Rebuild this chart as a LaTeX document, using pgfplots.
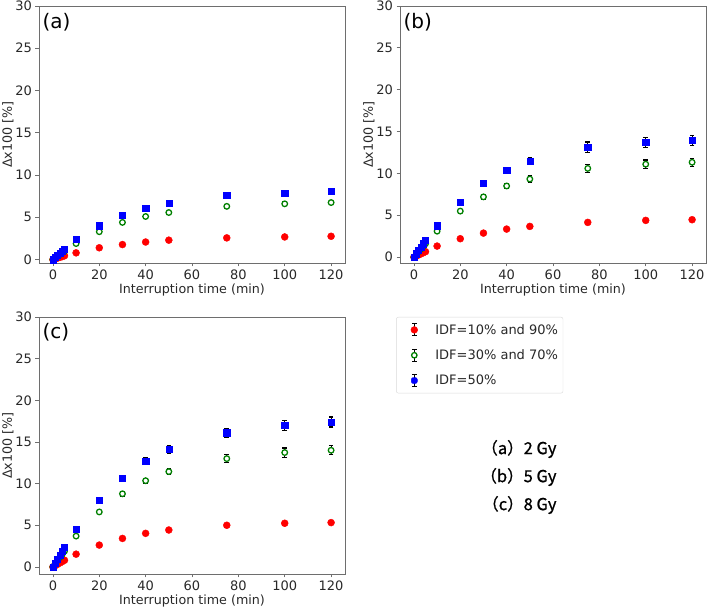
\documentclass[border=0pt]{standalone}
\usepackage{fontspec}
\setmainfont{DejaVu Sans}
\newfontfamily\cjk[FakeBold=0.8]{Noto Sans CJK JP}
\usepackage{pgfplots}
\usepackage{pgfplotstable}
\pgfplotsset{compat=1.18}
\definecolor{mplred}{RGB}{255,0,0}
\definecolor{mplgreen}{RGB}{0,128,0}
\definecolor{mplblue}{RGB}{0,0,255}
\definecolor{axgray}{RGB}{110,110,110}
\definecolor{txt}{RGB}{40,40,40}

\pgfplotstableread{
t   r    re   g    ge   b    be
0   0    0.02 0    0.02 0    0.02
1   0.09 0.03 0.20 0.04 0.25 0.05
2   0.18 0.04 0.40 0.06 0.50 0.06
3   0.27 0.05 0.60 0.07 0.75 0.08
4   0.36 0.05 0.80 0.08 1.00 0.09
5   0.45 0.06 1.00 0.09 1.25 0.10
10  0.80 0.08 1.90 0.12 2.37 0.15
20  1.40 0.10 3.30 0.15 4.00 0.18
30  1.78 0.11 4.40 0.18 5.25 0.20
40  2.08 0.12 5.10 0.20 6.10 0.22
50  2.30 0.12 5.57 0.22 6.70 0.25
75  2.57 0.14 6.30 0.25 7.60 0.30
100 2.68 0.14 6.60 0.25 7.90 0.30
120 2.76 0.15 6.75 0.25 8.10 0.30
}\dataA

\pgfplotstableread{
t   r    re   g    ge   b    be
0   0    0.02 0    0.02 0    0.02
1   0.13 0.03 0.32 0.05 0.40 0.06
2   0.26 0.04 0.64 0.07 0.80 0.08
3   0.39 0.05 0.96 0.09 1.20 0.10
4   0.52 0.06 1.28 0.10 1.60 0.12
5   0.65 0.07 1.60 0.12 2.00 0.14
10  1.32 0.10 3.10 0.18 3.75 0.20
20  2.20 0.14 5.50 0.22 6.60 0.25
30  2.87 0.15 7.20 0.28 8.80 0.30
40  3.35 0.17 8.50 0.32 10.37 0.35
50  3.67 0.18 9.33 0.40 11.50 0.45
75  4.15 0.20 10.60 0.45 13.15 0.60
100 4.39 0.20 11.10 0.50 13.70 0.60
120 4.47 0.20 11.33 0.50 13.96 0.60
}\dataB

\pgfplotstableread{
t   r    re   g    ge   b    be
0   0    0.02 0    0.02 0    0.02
1   0.16 0.03 0.38 0.05 0.47 0.06
2   0.32 0.04 0.76 0.07 0.94 0.08
3   0.48 0.05 1.14 0.09 1.41 0.10
4   0.64 0.06 1.52 0.10 1.88 0.12
5   0.80 0.07 1.90 0.12 2.35 0.14
10  1.53 0.10 3.70 0.18 4.50 0.20
20  2.62 0.14 6.60 0.22 8.05 0.25
30  3.42 0.16 8.78 0.28 10.67 0.30
40  4.03 0.18 10.35 0.30 12.70 0.45
50  4.43 0.20 11.44 0.35 14.10 0.50
75  5.00 0.22 13.00 0.50 16.10 0.55
100 5.24 0.25 13.73 0.55 17.00 0.60
120 5.32 0.25 14.00 0.55 17.40 0.60
}\dataC

\pgfplotsset{
  panel/.style={
    width=306pt, height=257pt, scale only axis,
    xmin=-6, xmax=126, ymax=30,
    xtick={0,20,...,120}, ytick={0,5,...,30},
    tick align=outside, tick pos=left,
    major tick length=3.5pt,
    tick style={axgray, line width=0.8pt},
    axis line style={axgray, line width=0.8pt},
    tick label style={font=\fontsize{13}{15}\selectfont, text=txt},
    label style={font=\fontsize{12.7}{14}\selectfont, text=txt},
    /pgf/number format/assume math mode=true,
    xlabel={Interruption time (min)},
    ylabel={Δx100 [\%]},
    xlabel style={yshift=3pt},
    ylabel style={yshift=-5pt},
  },
  redpl/.style={only marks, mark=*, mark size=3.5pt, mplred,
    mark options={draw=mplred, fill=mplred},
    legend image code/.code={
      \path[draw=none,fill=none] (0pt,-7pt) rectangle (32pt,7pt);
      \draw[black,line width=1.1pt] (15pt,-6pt)--(15pt,6pt) (12.7pt,-6pt)--(17.3pt,-6pt) (12.7pt,6pt)--(17.3pt,6pt);
      \path[draw=mplred,fill=mplred] (15pt,0) circle (3.4pt);}},
  greenpl/.style={only marks, mark=*, mark size=2.8pt, mplgreen,
    mark options={draw=mplgreen, fill=white, line width=1.3pt},
    legend image code/.code={
      \path[draw=none,fill=none] (0pt,-7pt) rectangle (32pt,7pt);
      \draw[black,line width=1.1pt] (15pt,-6pt)--(15pt,6pt) (12.7pt,-6pt)--(17.3pt,-6pt) (12.7pt,6pt)--(17.3pt,6pt);
      \path[draw=mplgreen,fill=white,line width=1.3pt] (15pt,0) circle (2.7pt);}},
  bluepl/.style={only marks, mark=square*, mark size=3.1pt, mplblue,
    mark options={draw=mplblue, fill=mplblue},
    legend image code/.code={
      \path[draw=none,fill=none] (0pt,-7pt) rectangle (32pt,7pt);
      \draw[black,line width=1.1pt] (15pt,-6pt)--(15pt,6pt) (12.7pt,-6pt)--(17.3pt,-6pt) (12.7pt,6pt)--(17.3pt,6pt);
      \path[draw=mplblue,fill=mplblue] (12pt,-3pt) rectangle (18pt,3pt);}},
  errs/.style={error bars/y dir=both, error bars/y explicit,
    error bars/error bar style={black, line width=1.1pt},
    error bars/error mark options={rotate=90, black, mark size=2.3pt, line width=1.1pt}},
}

\begin{document}
\begin{tikzpicture}
\useasboundingbox (0,0) rectangle (708pt,609pt);

% (a)
\begin{axis}[panel, ymin=-0.4, at={(39pt,346pt)}, anchor=south west]
\addplot[redpl, errs] table[x=t, y=r, y error=re] {\dataA};
\addplot[greenpl, errs] table[x=t, y=g, y error=ge] {\dataA};
\addplot[bluepl, errs] table[x=t, y=b, y error=be] {\dataA};
\node[anchor=west, font=\fontsize{20}{22}\selectfont, text=black] at (rel axis cs:0.0,0.935) {(a)};
\end{axis}

% (b)
\begin{axis}[panel, ymin=-0.7, at={(400pt,346pt)}, anchor=south west]
\addplot[redpl, errs] table[x=t, y=r, y error=re] {\dataB};
\addplot[greenpl, errs] table[x=t, y=g, y error=ge] {\dataB};
\addplot[bluepl, errs] table[x=t, y=b, y error=be] {\dataB};
\node[anchor=west, font=\fontsize{20}{22}\selectfont, text=black] at (rel axis cs:0.0,0.935) {(b)};
\end{axis}

% (c)
\begin{axis}[panel, ymin=-0.85, at={(39pt,35pt)}, anchor=south west,
  legend style={at={(1.167,1.0)}, anchor=north west, draw=black!15, rounded corners=2pt,
    font=\fontsize{13}{15}\selectfont, text=txt, row sep=10pt, inner xsep=3pt, inner ysep=5pt,
    column sep=2pt},
  legend cell align=left]
\addplot[redpl, errs] table[x=t, y=r, y error=re] {\dataC};
\addlegendentry{IDF=10\% and 90\%}
\addplot[greenpl, errs] table[x=t, y=g, y error=ge] {\dataC};
\addlegendentry{IDF=30\% and 70\%}
\addplot[bluepl, errs] table[x=t, y=b, y error=be] {\dataC};
\addlegendentry{IDF=50\%}
\node[anchor=west, font=\fontsize{20}{22}\selectfont, text=black] at (rel axis cs:0.0,0.94) {(c)};
\end{axis}

\node[anchor=east, font=\cjk\fontsize{16.5}{18}\selectfont, text=black] at (560pt,160pt) {（a）2 Gy};
\node[anchor=east, font=\cjk\fontsize{16.5}{18}\selectfont, text=black] at (560pt,132pt) {（b）5 Gy};
\node[anchor=east, font=\cjk\fontsize{16.5}{18}\selectfont, text=black] at (560pt,104pt) {（c）8 Gy};
\end{tikzpicture}
\end{document}
